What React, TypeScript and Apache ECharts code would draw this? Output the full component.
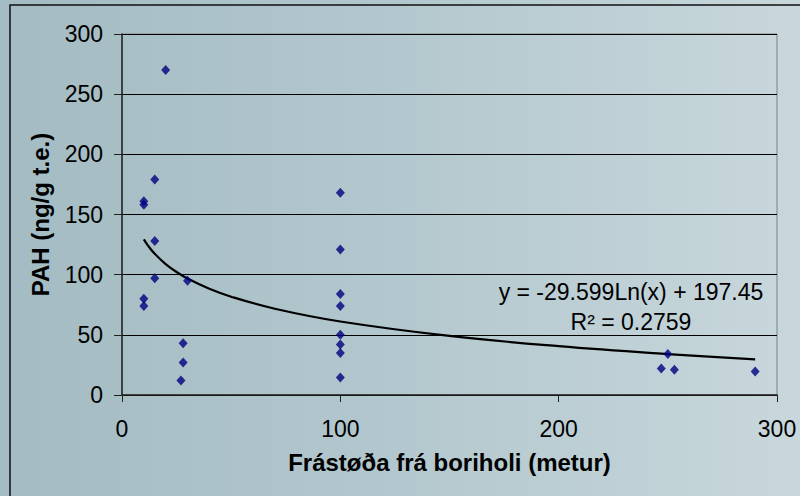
import React, { useEffect, useRef } from "react";
import * as echarts from "echarts";

const distance = [20, 15, 10, 10, 100, 15, 15, 30, 10, 10, 100, 100, 100, 28, 28, 27, 100, 100, 100, 100, 250, 247, 253, 290];
const pah = [270, 179, 161, 158, 168, 128, 97, 95, 80, 74, 121, 84, 74, 43, 27, 12, 50, 42, 35, 14.5, 34, 22, 21, 19.5];

const trendX = [10, 12, 15, 20, 25, 30, 40, 50, 70, 100, 150, 200, 250, 290];
const trendY = [129.3, 123.9, 117.3, 108.8, 102.2, 96.8, 88.3, 81.7, 71.7, 61.1, 49.1, 40.6, 34.0, 29.6];

const xTicks = [0, 100, 200, 300];
const yTicks = [0, 50, 100, 150, 200, 250, 300];

const equationText = "y = -29.599Ln(x) + 197.45";
const r2Text = "R² = 0.2759";
const xTitle = "Frástøða frá boriholi (metur)";
const yTitle = "PAH (ng/g t.e.)";

export default function App() {
  const ref = useRef<HTMLDivElement>(null);
  useEffect(() => {
    if (!ref.current) return;
    const chart = echarts.init(ref.current, null, { renderer: "svg" });
    const font = "Liberation Sans, Arial, sans-serif";
    chart.setOption({
      animation: false,
      backgroundColor: "transparent",
      textStyle: { fontFamily: font },
      grid: {
        left: 122,
        top: 34,
        right: 23,
        bottom: 101,
        show: true,
        borderColor: "#808080",
        borderWidth: 1,
        backgroundColor: "transparent",
      },
      xAxis: {
        type: "value",
        min: xTicks[0],
        max: xTicks[xTicks.length - 1],
        interval: 100,
        name: xTitle,
        nameLocation: "middle",
        nameGap: 55,
        nameTextStyle: { fontSize: 24, fontWeight: "bold", color: "#000", fontFamily: font },
        axisLine: { lineStyle: { color: "#222", width: 1.5 } },
        axisTick: { show: true, length: 7, lineStyle: { color: "#222", width: 1 } },
        axisLabel: { fontSize: 23, color: "#000", margin: 22, fontFamily: font },
        splitLine: { show: false },
      },
      yAxis: {
        type: "value",
        min: yTicks[0],
        max: yTicks[yTicks.length - 1],
        interval: 50,
        name: yTitle,
        nameLocation: "middle",
        nameGap: 70,
        nameRotate: 90,
        nameTextStyle: { fontSize: 24, fontWeight: "bold", color: "#000", fontFamily: font },
        axisLine: { show: true, lineStyle: { color: "#222", width: 1.5 } },
        axisTick: { show: true, length: 8, lineStyle: { color: "#222", width: 1 } },
        axisLabel: { fontSize: 23, color: "#000", margin: 19, fontFamily: font },
        splitLine: { show: true, lineStyle: { color: "#000", width: 1 } },
      },
      series: [
        {
          type: "line",
          data: trendX.map((x, i) => [x, trendY[i]]),
          smooth: 0.4,
          symbol: "none",
          lineStyle: { color: "#000", width: 2.2 },
          z: 2,
          silent: true,
        },
        {
          type: "scatter",
          data: distance.map((x, i) => [x, pah[i]]),
          symbol: "diamond",
          symbolSize: [9, 10],
          itemStyle: { color: "#000080" },
          z: 3,
        },
      ],
      graphic: [
        {
          type: "rect",
          shape: { x: 10, y: 5, width: 820, height: 620 },
          style: { fill: "none", stroke: "#111", lineWidth: 1.5 },
          silent: true,
        },
        {
          type: "text",
          x: 631,
          y: 292,
          style: {
            text: equationText,
            fontSize: 23,
            fontFamily: font,
            fill: "#000",
            align: "center",
            verticalAlign: "middle",
          },
        },
        {
          type: "text",
          x: 631,
          y: 322,
          style: {
            text: r2Text,
            fontSize: 23,
            fontFamily: font,
            fill: "#000",
            align: "center",
            verticalAlign: "middle",
          },
        },
      ],
    });
    return () => chart.dispose();
  }, []);
  return (
    <div
      ref={ref}
      style={{
        position: "fixed",
        left: 0,
        top: 0,
        width: 800,
        height: 496,
        background: "linear-gradient(to right, #a3bbc2 0%, #b3c8ce 50%, #c8d7dc 100%)",
      }}
    />
  );
}
